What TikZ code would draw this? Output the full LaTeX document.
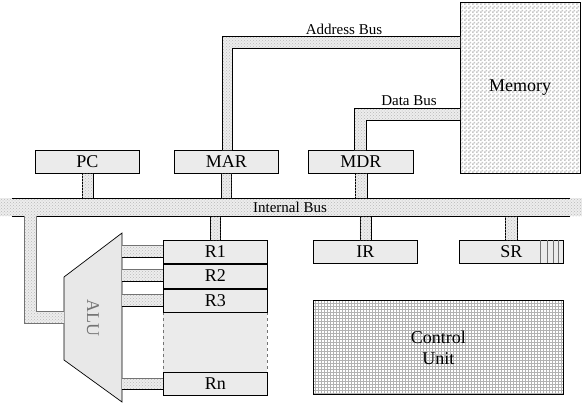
\documentclass[tikz,border=0pt]{standalone}
\usepackage{fontspec}
\setmainfont{Liberation Serif}
\usetikzlibrary{patterns,calc}
\definecolor{boxgray}{gray}{0.92}
\definecolor{alugray}{gray}{0.91}
\definecolor{busgray}{gray}{0.93}
\definecolor{wiregray}{gray}{0.45}
\pgfdeclarepatternformonly{finechecker}{\pgfpointorigin}{\pgfqpoint{4pt}{4pt}}{\pgfqpoint{4pt}{4pt}}{%
  \pgfpathrectangle{\pgfpointorigin}{\pgfqpoint{2pt}{2pt}}%
  \pgfpathrectangle{\pgfqpoint{2pt}{2pt}}{\pgfqpoint{2pt}{2pt}}%
  \pgfusepath{fill}}
\begin{document}
\begin{tikzpicture}[x=1pt,y=-1pt,
  regbox/.style={draw, fill=boxgray, line width=0.8pt, inner sep=0pt, anchor=north west,
    font=\fontsize{18}{20}\selectfont},
  busfill/.style={fill=busgray, postaction={pattern=crosshatch dots, pattern color=gray!55}},
  stub/.style={busfill, draw, line width=0.8pt},
  busline/.style={line width=0.8pt},
  buslabel/.style={font=\fontsize{15}{17}\selectfont, inner sep=0pt}]
\useasboundingbox (0,0) rectangle (582,405);

% ---------- registers ----------
\node[regbox, minimum width=104, minimum height=23] (pc) at (35,150) {PC};
\node[regbox, minimum width=104, minimum height=23] (mar) at (174,150) {MAR};
\node[regbox, minimum width=105, minimum height=23] (mdr) at (308,150) {MDR};
\node[regbox, minimum width=104, minimum height=23] (ir) at (313,240) {IR};
\node[regbox, minimum width=104, minimum height=23] (sr) at (459,240) {SR};

% memory
\path[fill=white, postaction={pattern=finechecker, pattern color=gray!45}]
  (460,2) rectangle (580,173);
\node[draw, line width=0.8pt, anchor=north west, minimum width=120, minimum height=171,
  inner sep=0pt] (mem) at (460,2) {};
\node[font=\fontsize{18}{20}\selectfont] (memtxt) at (520,88) {Memory};

% control unit
\path[fill=white, postaction={pattern=grid, pattern color=gray!60}]
  (313,300) rectangle (563,394);
\node[draw, line width=0.8pt, anchor=north west, minimum width=250, minimum height=94,
  inner sep=0pt, align=center, font=\fontsize{18}{21}\selectfont] (cu) at (313,300) {Control\\Unit};

% SR flag lines
\foreach \xx in {540,547,553,558} \draw[wiregray, line width=0.6pt] (\xx,240) -- (\xx,263);

% ---------- internal bus ----------
\node[busfill, anchor=north west, minimum width=582, minimum height=18, inner sep=0pt] (ibus) at (0,198) {};
\draw[busline] (12,198) -- (570,198);
\draw[busline] (12,216) -- (24,216);
\draw[busline] (36,216) -- (570,216);
\node[buslabel] (ibuslbl) at (290,207) {Internal Bus};

% stubs to internal bus
\draw[stub] ($(pc.south)+(-5.5,0)$) rectangle ($(pc.south |- ibus.north)+(5.5,0)$);
\draw[stub] ($(mar.south)+(-5,0)$) rectangle ($(mar.south |- ibus.north)+(5,0)$);
\draw[stub] ($(mdr.south)+(-6,0)$) rectangle ($(mdr.south |- ibus.north)+(6,0)$);
\draw[stub] ($(ir.north)+(-5.5,0)$) rectangle ($(ir.north |- ibus.south)+(5.5,0)$);
\draw[stub] ($(sr.north)+(-6,0)$) rectangle ($(sr.north |- ibus.south)+(6,0)$);

% ---------- address bus ----------
\coordinate (ab1) at (222,36);
\coordinate (ab2) at (232,48);
\path[busfill] (mar.north -| ab1) -- (ab1) -- (ab1 -| mem.west) -- (ab2 -| mem.west) -- (ab2) -- (mar.north -| ab2) -- cycle;
\draw[busline] (mar.north -| ab1) -- (ab1) -- (ab1 -| mem.west);
\draw[busline] (mar.north -| ab2) -- (ab2) -- (ab2 -| mem.west);
\node[buslabel] (ablbl) at (344,29) {Address Bus};

% ---------- data bus ----------
\coordinate (db1) at (354,108);
\coordinate (db2) at (366,120);
\path[busfill] (mdr.north -| db1) -- (db1) -- (db1 -| mem.west) -- (db2 -| mem.west) -- (db2) -- (mdr.north -| db2) -- cycle;
\draw[busline] (mdr.north -| db1) -- (db1) -- (db1 -| mem.west);
\draw[busline] (mdr.north -| db2) -- (db2) -- (db2 -| mem.west);
\node[buslabel] (dblbl) at (409,101) {Data Bus};

% ---------- register file ----------
\path[fill=boxgray] (163,312) rectangle (267,372);
\draw[wiregray, dashed, line width=0.6pt] (163,312) -- (163,372);
\draw[wiregray, dashed, line width=0.6pt] (267,312) -- (267,372);
\draw[wiregray, line width=0.6pt] (163,372) -- (267,372);
\node[regbox, minimum width=104, minimum height=23] (r1) at (163,240) {R1};
\node[regbox, minimum width=104, minimum height=25] (r2) at (163,263) {R2};
\node[regbox, minimum width=104, minimum height=24] (r3) at (163,288) {R3};
\node[regbox, minimum width=104, minimum height=23] (rn) at (163,372) {Rn};
\draw[line width=1.6pt] (r1.south west) -- (r1.south east);
\draw[line width=1.6pt] (r2.south west) -- (r2.south east);
\draw[stub] ($(r1.north)+(-5,0)$) rectangle ($(r1.north |- ibus.south)+(5,0)$);

% ---------- ALU ----------
\path[draw=black, line width=0.7pt, fill=alugray] (122,233) -- (122,402) -- (64,360) -- (64,277) -- cycle;
\node[rotate=-90, text=wiregray, font=\fontsize{18}{20}\selectfont] (alu) at (93,318) {ALU};

% ALU to registers
\foreach \reg/\ya/\yb in {r1/245/257, r2/269/281, r3/294/306, rn/378/389} {
  \path[busfill] (122,\ya) rectangle (\reg.west |- 0,\yb);
  \draw[line width=0.7pt, wiregray] (122,\ya) -- (\reg.west |- 0,\ya);
  \draw[line width=0.8pt] (122,\yb) -- (\reg.west |- 0,\yb);
}

% ALU result back to internal bus
\path[busfill] (24,216) -- (24,323) -- (64,323) -- (64,311) -- (36,311) -- (36,216) -- cycle;
\draw[wiregray, line width=0.8pt] (24,216) -- (24,323) -- (64,323);
\draw[wiregray, line width=0.8pt] (36,216) -- (36,311) -- (64,311);
\end{tikzpicture}
\end{document}
